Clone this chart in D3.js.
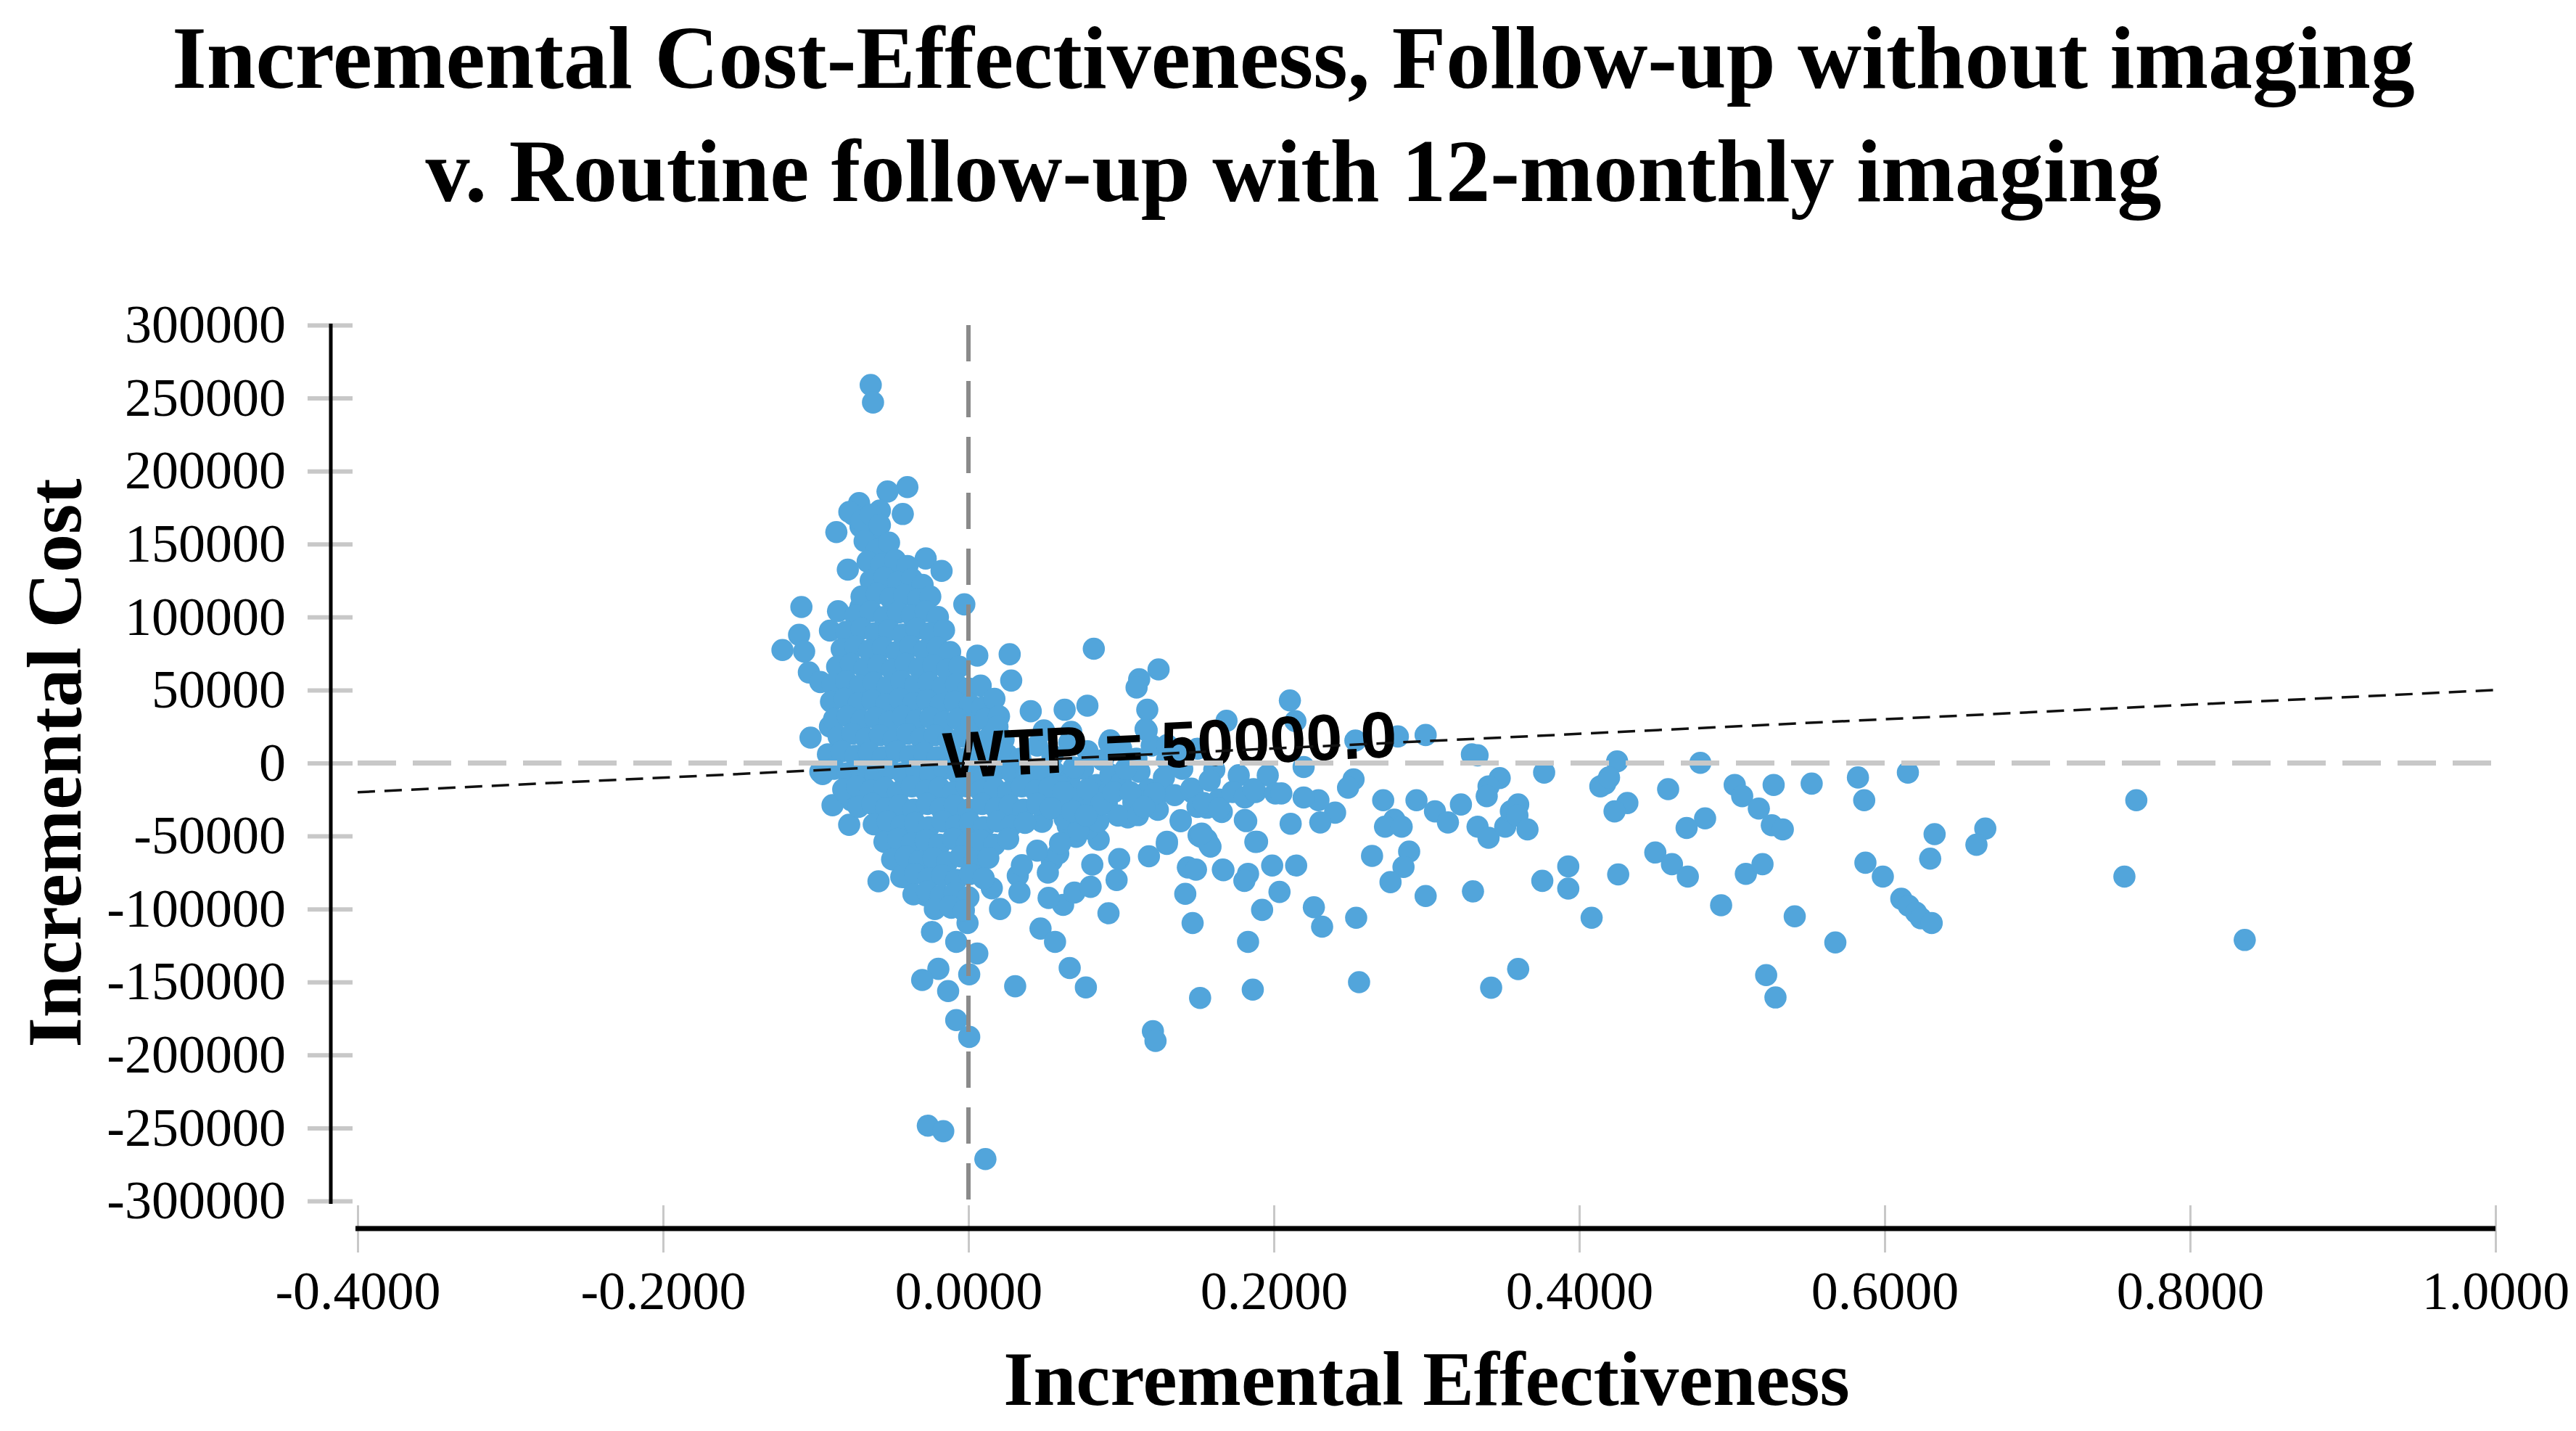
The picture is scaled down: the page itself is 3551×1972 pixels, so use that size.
<!DOCTYPE html>
<html><head><meta charset="utf-8">
<script src="https://cdn.jsdelivr.net/npm/d3@7"></script>
<style>body{margin:0;background:#fff}svg{display:block}</style>
</head><body>
<svg id="c" width="3551" height="1972"></svg>
<script>
const titleLines = ["Incremental Cost-Effectiveness, Follow-up without imaging", "v. Routine follow-up with 12-monthly imaging"];
const xLabel = "Incremental Effectiveness";
const yLabel = "Incremental Cost";
const xTicks = [-0.4, -0.2, 0, 0.2, 0.4, 0.6, 0.8, 1.0];
const yTicks = [-300000, -250000, -200000, -150000, -100000, -50000, 0, 50000, 100000, 150000, 200000, 250000, 300000];
const wtp = 50000;
const wtpLabel = "WTP = 50000.0";

// [incremental effectiveness, incremental cost]
const points = [
// outliers / sparse, left of and around the cluster
[-0.064,259000],[-0.0625,247000],[-0.040,189000],[-0.053,186000],[-0.0716,178000],[-0.0752,170000],[-0.058,173000],[-0.043,170600],
[-0.0865,158200],[-0.0707,162000],[-0.0622,157300],[-0.0548,148700],[-0.028,140100],[-0.0176,131600],[-0.079,132500],[-0.0622,135400],
[-0.0515,132500],[-0.0398,127800],[-0.0622,120200],[-0.0027,108700],[-0.1094,106900],[-0.0854,104000],[-0.0707,106900],[-0.0907,90700],
[-0.1109,87800],[-0.1218,77400],[-0.1076,76400],[-0.1045,62100],[-0.097,55500],[0.0058,73600],[0.027,74500],[0.028,56500],[0.0821,78300],
[0.1245,64100],[0.1118,57400],[0.1101,51700],[0.1171,36500],[0.116,23200],[0.0408,35500],[0.063,36500],[0.0779,39300],[0.169,28900],
[-0.1034,17400],[-0.0907,25000],[0.0143,34500],[0.0928,15500],[0.0673,21300],[0.15,9800],[-0.0955,-7600],[-0.0781,-42300],[-0.0765,-25700],
[-0.059,-42300],[-0.089,-28900],[-0.0795,-21400],[-0.0589,-81000],[-0.0239,-115700],[-0.008,-122500],[0.0058,-130500],[-0.0197,-141000],
[-0.0303,-148600],[-0.0133,-156200],[0.0005,-144800],[-0.008,-176100],[0.0005,-187600],[-0.0266,-248400],[-0.0165,-252200],[0.0111,-271300],
[0.0306,-152900],[0.0663,-140400],[0.0769,-153700],[0.0472,-113400],[0.0567,-122500],[0.0917,-102900],[0.062,-97200],[0.0525,-92400],
[0.0694,-88700],[0.08,-84800],[0.0811,-69600],[0.097,-80100],[0.0987,-65800],[0.1182,-63900],[0.1299,-55400],[0.139,-39200],[0.1522,-50600],
[0.1585,-57300],[0.1437,-71500],[0.142,-89600],[0.1468,-109600],[0.167,-73400],[0.1517,-160900],[0.1208,-183700],[0.1225,-190400],
[0.0323,-77200],[0.0334,-88700],[0.0153,-85800],[0.0207,-100000],[0.0546,-66800],[0.0588,-62000],[0.1044,-37300],[0.1245,-21100],
[0.1468,-20200],[0.1563,-30600],[0.1659,-33500],[0.0705,-50600],[0.0853,-52500],[0.0482,-40200],[-0.0494,-65900],[-0.0419,-78200],
[-0.0281,-90600],[-0.0112,-99100],[-0.0006,-109600],[0.065,-43000],[0.078,-44900],[0.1118,-22100],[0.0906,-27800],[0.0525,-22100],
[0.1507,-49500],[0.149,-73000],
// right of the y axis, near zero
[0.045,12000],[0.055,5000],[0.066,14000],[0.078,8000],[0.088,2000],[0.100,10000],[0.110,3000],[0.120,12000],[0.130,2000],[0.0494,22300],
[0.1167,22300],[0.1302,12300],[0.0922,14000],[0.140,8000],[0.161,-4600],[0.177,-8400],[0.196,-8400],
[0.056,-6000],[0.066,-12000],[0.075,-4000],[0.084,-15000],[0.093,-8000],[0.071,-24000],[0.081,-30000],[0.090,-22000],[0.100,-14000],
[0.108,-27000],[0.112,-6000],[0.118,-18000],[0.124,-32000],[0.128,-10000],[0.135,-22000],[0.140,-4000],[0.146,-17500],[0.150,-30000],
[0.158,-12000],[0.164,-25000],[0.098,-36000],[0.111,-35700],[0.122,-20800],[0.139,-39900],[0.130,-53900],[0.156,-52300],[0.181,-39000],
[0.189,-53900],[0.063,-38000],[0.072,-46000],[0.085,-40000],[0.060,-55000],[0.045,-60000],[0.035,-70000],[0.052,-75000],
[0.154,-27400],[0.164,-31200],[0.173,-19800],[0.181,-23600],[0.188,-19800],[0.201,-20800],
[0.060,-16000],[0.069,-3000],[0.078,-18000],[0.087,-28000],[0.095,-20000],[0.103,-4000],[0.106,-20000],[0.115,-30000],[0.059,-26000],
[0.068,-33000],[0.077,-36000],
// 0.2 .. 0.53
[0.2105,42900],[0.2141,28700],[0.2994,19200],[0.2812,18200],[0.2534,15400],[0.3297,5900],[0.3334,5300],[0.4248,1100],[0.4793,150],
[0.377,-6500],[0.2195,-2700],[0.2522,-11200],[0.2486,-16900],[0.3479,-10300],[0.3406,-16000],[0.3394,-22700],[0.417,-14100],[0.4138,-16000],
[0.4195,-9900],[0.4582,-17900],[0.5018,-15000],[0.5067,-22700],[0.5273,-15000],[0.4315,-27400],[0.4231,-33100],[0.4824,-37900],[0.4703,-44500],
[0.5176,-31200],[0.5261,-42600],[0.2716,-25500],[0.2934,-25500],[0.3055,-33100],[0.3225,-28400],[0.314,-40700],[0.2789,-38800],[0.2728,-43600],
[0.2837,-43600],[0.3334,-43600],[0.3406,-51200],[0.3515,-43600],[0.3552,-33100],[0.36,-28400],[0.3595,-36000],[0.3661,-45500],[0.2401,-34000],
[0.2304,-40700],[0.2292,-25500],[0.2195,-23600],[0.2049,-20800],[0.211,-41600],[0.1819,-39800],[0.1879,-54000],[0.1577,-55900],[0.1528,-48400],
[0.1867,-17900],[0.2643,-63600],[0.2886,-60700],[0.2849,-71200],[0.2764,-81600],[0.2994,-91100],[0.3304,-87900],[0.2146,-70200],[0.1989,-70200],
[0.1831,-75900],[0.1807,-80700],[0.1666,-73000],[0.2037,-88300],[0.1923,-100600],[0.2262,-98800],[0.2316,-112100],[0.2539,-106000],
[0.1831,-122500],[0.1862,-155200],[0.2558,-150100],[0.3423,-153900],[0.36,-141100],[0.3758,-80700],[0.3928,-70800],[0.3928,-86000],
[0.4081,-106000],[0.4255,-76300],[0.4498,-61300],[0.4607,-69300],[0.4711,-77800],[0.5091,-75900],[0.52,-69300],[0.4929,-97400],
[0.5224,-145300],[0.5285,-160600],
// 0.53 .. 0.85
[0.5522,-14100],[0.5825,-9900],[0.5866,-25500],[0.6152,-6500],[0.5333,-45500],[0.6327,-48700],[0.6659,-44900],[0.6601,-56000],[0.6298,-65500],
[0.5874,-68300],[0.5988,-77800],[0.6109,-93000],[0.6157,-97800],[0.6206,-102500],[0.6237,-106400],[0.6308,-109600],[0.5411,-105000],
[0.5677,-122900],[0.7648,-25500],[0.757,-77800],[0.8358,-121200],
// dense cluster
[-0.078,172000],[-0.070,166000],[-0.064,170000],[-0.058,163000],
[-0.068,152000],[-0.060,146000],[-0.052,151000],
[-0.066,138000],[-0.057,136000],[-0.048,139000],[-0.040,135000],
[-0.064,125000],[-0.055,127000],[-0.046,124000],[-0.037,126000],[-0.030,122000],
[-0.070,114000],[-0.060,116000],[-0.051,113000],[-0.042,115000],[-0.033,112000],[-0.025,114000],
[-0.074,101000],[-0.064,104000],[-0.055,100000],[-0.046,103000],[-0.037,101000],[-0.028,104000],[-0.020,100000],
[-0.080,90000],[-0.070,92000],[-0.061,89000],[-0.052,91000],[-0.043,88000],[-0.034,92000],[-0.025,89000],[-0.016,91000],
[-0.083,78000],[-0.074,80000],[-0.065,77000],[-0.056,79000],[-0.047,76000],[-0.038,80000],[-0.029,77000],[-0.020,79000],[-0.012,76000],
[-0.086,66000],[-0.077,68000],[-0.068,65000],[-0.059,67000],[-0.050,64000],[-0.041,68000],[-0.032,65000],[-0.023,67000],[-0.014,64000],[-0.006,66000],
[-0.089,54000],[-0.080,56000],[-0.071,53000],[-0.062,55000],[-0.053,52000],[-0.044,56000],[-0.035,53000],[-0.026,55000],[-0.017,52000],[-0.008,54000],[0.000,51000],[0.008,53000],
[-0.090,42000],[-0.081,44000],[-0.072,41000],[-0.063,43000],[-0.054,40000],[-0.045,44000],[-0.036,41000],[-0.027,43000],[-0.018,40000],[-0.009,42000],[0.001,40000],[0.009,38000],[0.017,44000],
[-0.088,30000],[-0.079,32000],[-0.070,29000],[-0.061,31000],[-0.052,28000],[-0.043,32000],[-0.034,29000],[-0.025,31000],[-0.016,28000],[-0.007,30000],[0.002,27000],[0.011,30000],[0.020,32000],[0.019,25000],
[-0.085,18000],[-0.076,20000],[-0.067,17000],[-0.058,19000],[-0.049,16000],[-0.040,20000],[-0.031,17000],[-0.022,19000],[-0.013,16000],[-0.004,18000],[0.005,15000],[0.014,18000],[0.023,16000],
[-0.092,6000],[-0.083,8000],[-0.074,5000],[-0.065,7000],[-0.056,4000],[-0.047,8000],[-0.038,5000],[-0.029,7000],[-0.020,4000],[-0.011,6000],[-0.002,3000],[0.007,7000],[0.016,4000],[0.025,6000],[0.034,3000],
[-0.097,-6000],[-0.088,-4000],[-0.079,-7000],[-0.070,-5000],[-0.061,-8000],[-0.052,-4000],[-0.043,-7000],[-0.034,-5000],[-0.025,-8000],[-0.016,-4000],[-0.007,-7000],[0.002,-5000],[0.011,-8000],[0.020,-4000],[0.029,-7000],[0.038,-5000],[0.047,-8000],
[-0.082,-18000],[-0.073,-16000],[-0.064,-19000],[-0.055,-17000],[-0.046,-20000],[-0.037,-16000],[-0.028,-19000],[-0.019,-17000],[-0.010,-20000],[-0.001,-16000],[0.008,-19000],[0.017,-17000],[0.026,-20000],[0.035,-16000],[0.044,-19000],[0.053,-17000],[0.062,-20000],
[-0.072,-30000],[-0.063,-28000],[-0.054,-31000],[-0.045,-29000],[-0.036,-32000],[-0.027,-28000],[-0.018,-31000],[-0.009,-29000],[0.000,-32000],[0.009,-28000],[0.018,-31000],[0.027,-29000],[0.036,-32000],[0.045,-28000],[0.054,-31000],
[-0.062,-42000],[-0.053,-40000],[-0.044,-43000],[-0.035,-41000],[-0.026,-44000],[-0.017,-40000],[-0.008,-43000],[0.001,-41000],[0.010,-44000],[0.019,-40000],[0.028,-43000],[0.037,-41000],
[-0.055,-54000],[-0.046,-52000],[-0.037,-55000],[-0.028,-53000],[-0.019,-56000],[-0.010,-52000],[-0.001,-55000],[0.008,-53000],[0.017,-56000],[0.026,-52000],
[-0.050,-66000],[-0.041,-64000],[-0.032,-67000],[-0.023,-65000],[-0.014,-68000],[-0.005,-64000],[0.004,-67000],[0.013,-65000],
[-0.044,-78000],[-0.035,-76000],[-0.026,-79000],[-0.017,-77000],[-0.008,-80000],[0.001,-76000],[0.010,-79000],
[-0.036,-90000],[-0.027,-88000],[-0.018,-91000],[-0.009,-89000],[0.000,-92000],
[-0.022,-100000],[-0.012,-98000],[-0.003,-101000]
];

const W = 3551, H = 1972;
const svg = d3.select('#c');
const x = d3.scaleLinear().domain([-0.4, 1.0]).range([493, 3440]);
const y = d3.scaleLinear().domain([-300000, 300000]).range([1655, 448]);
const serif = "'Liberation Serif','Times New Roman',Times,serif";
const sans = "'Liberation Sans',Arial,Helvetica,sans-serif";

// title
const title = svg.append('text').attr('text-anchor', 'middle')
  .style('font-family', serif).style('font-weight', 'bold').style('font-size', '122px').attr('fill', '#000');
title.selectAll('tspan').data(titleLines).join('tspan')
  .attr('x', 1783).attr('y', (d, i) => 121 + i * 156).text(d => d);

// y axis ticks + labels
const yAxis = d3.axisLeft(y).tickValues(yTicks).tickSize(62).tickPadding(30).tickFormat(d => String(d));
const gy = svg.append('g').attr('transform', 'translate(486,0)').call(yAxis);
gy.select('.domain').remove();
gy.selectAll('.tick line').attr('stroke', '#c8c8c8').attr('stroke-width', 6);
gy.selectAll('.tick text').style('font-family', serif).style('font-size', '74px').attr('fill', '#000');

// x axis ticks + labels
const xAxis = d3.axisBottom(x).tickValues(xTicks).tickSize(65).tickPadding(25).tickFormat(d => d.toFixed(4));
const gx = svg.append('g').attr('transform', 'translate(0,1661)').call(xAxis);
gx.select('.domain').remove();
gx.selectAll('.tick line').attr('stroke', '#c8c8c8').attr('stroke-width', 3);
gx.selectAll('.tick text').style('font-family', serif).style('font-size', '74px').attr('fill', '#000');

// axis lines
svg.append('line').attr('x1', 456).attr('x2', 456).attr('y1', y(300000) - 2).attr('y2', y(-300000) + 4)
  .attr('stroke', '#000').attr('stroke-width', 5);
svg.append('line').attr('x1', x(-0.4) - 3).attr('x2', x(1.0)).attr('y1', 1693).attr('y2', 1693)
  .attr('stroke', '#000').attr('stroke-width', 7);

// axis titles
svg.append('text').attr('x', (x(-0.4) + x(1.0)) / 2).attr('y', 1936).attr('text-anchor', 'middle')
  .style('font-family', serif).style('font-weight', 'bold').style('font-size', '106px').text(xLabel);
svg.append('text').attr('transform', `translate(111,${y(0)}) rotate(-90)`).attr('text-anchor', 'middle')
  .style('font-family', serif).style('font-weight', 'bold').style('font-size', '106px').text(yLabel);

// points
svg.append('g').selectAll('circle').data(points).join('circle')
  .attr('cx', d => x(d[0])).attr('cy', d => y(d[1])).attr('r', 15.3).attr('fill', '#52a5db');

// WTP label
const ang = Math.atan2(y(wtp) - y(0), x(1) - x(0)) * 180 / Math.PI;
svg.append('text').attr('transform', `translate(${x(-0.016)},${y(0) + 21}) rotate(${ang})`)
  .style('font-family', sans).style('font-weight', 'bold').style('font-size', '90px').attr('fill', '#000').text(wtpLabel);

// zero reference lines
svg.append('line').attr('x1', x(-0.4)).attr('x2', x(1.0)).attr('y1', y(0)).attr('y2', y(0))
  .attr('stroke', '#c8c8c8').attr('stroke-width', 7).attr('stroke-dasharray', '53,23');
svg.append('line').attr('x1', x(0)).attr('x2', x(0)).attr('y1', y(300000)).attr('y2', y(-300000) + 5)
  .attr('stroke', '#8a8a8a').attr('stroke-width', 6).attr('stroke-dasharray', '50,27');

// WTP line
const line = d3.line().x(d => x(d)).y(d => y(wtp * d));
svg.append('path').datum(x.domain()).attr('d', line).attr('fill', 'none')
  .attr('stroke', '#111').attr('stroke-width', 3.5).attr('stroke-dasharray', '24,13');
</script>
</body></html>
